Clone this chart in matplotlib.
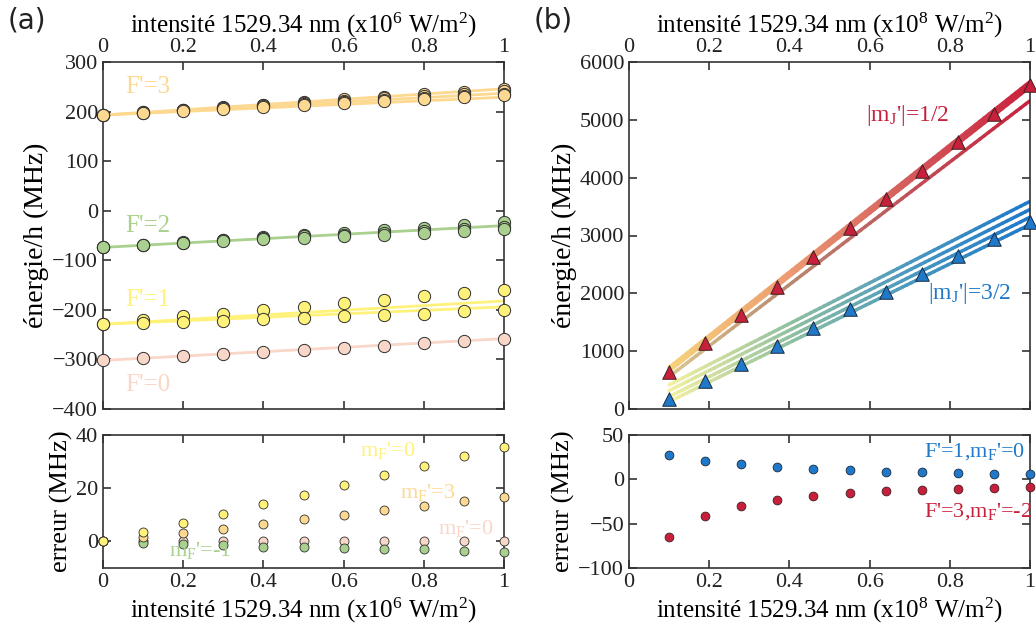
import numpy as np
import matplotlib
matplotlib.use("Agg")
import matplotlib.pyplot as plt
from matplotlib.collections import LineCollection
from matplotlib.colors import LinearSegmentedColormap

plt.rcParams['font.family'] = ['Liberation Serif', 'DejaVu Serif']
plt.rcParams['mathtext.fontset'] = 'custom'
plt.rcParams['mathtext.rm'] = 'Liberation Serif'
plt.rcParams['mathtext.it'] = 'Liberation Serif:italic'
plt.rcParams['mathtext.default'] = 'regular'

# ---------- panel (a) data ----------
x_a = [0, 0.1, 0.2, 0.3, 0.4, 0.5, 0.6, 0.7, 0.8, 0.9, 1.0]

f3_series = [
    [194, 199, 204, 209, 214, 220, 225, 230, 235, 240, 246],
    [194, 198.5, 203, 208, 213, 218, 222, 227, 232, 236, 241],
    [194, 198, 203, 207, 211, 216, 220, 224, 228, 232, 236],
    [194, 198, 202, 206, 210, 214, 218, 222, 226, 229, 233],
]
f2_series = [
    [-74, -69, -64, -59, -54, -49, -44, -39, -34, -29, -23],
    [-74, -69, -65, -60, -56, -52, -48, -44, -40, -36, -32],
    [-74, -70, -66, -62, -58, -55, -51, -48, -45, -41, -37],
]
f1_series = [
    [-229, -221, -213, -208, -201, -194, -187, -181, -173, -166, -159],
    [-229, -227, -225, -222, -219, -216, -213, -210, -208, -203, -200],
]
f0_series = [
    [-302, -297, -294, -290, -285, -280, -276, -272, -267, -263, -258],
]

# fitted lines (value at x=0, value at x=1)
f3_fits = [(193, 246), (193, 237), (193, 229)]
f2_fits = [(-74, -30)]
f1_fits = [(-229, -182), (-229, -194)]
f0_fits = [(-302, -258)]

err_a_y_mf0 = [0, 3.4, 7.0, 10.3, 14.2, 17.6, 21.2, 24.8, 28.5, 32.1, 35.6]
err_a_o_mf3 = [0, 1.7, 3.0, 4.8, 6.4, 8.3, 9.9, 11.8, 13.4, 15.2, 16.8]
err_a_p_mf0 = [0, 0.2, 0.2, 0.2, 0.2, 0.2, 0.2, 0.2, 0.2, 0.2, 0.2]
err_a_g_mfm1 = [0, -0.7, -1.0, -1.2, -2.0, -2.2, -2.4, -2.9, -3.0, -3.5, -3.9]

# ---------- panel (b) data ----------
x_b = [0.1, 0.19, 0.28, 0.37, 0.46, 0.55, 0.64, 0.73, 0.82, 0.91, 1.0]
red_pts = [640, 1142, 1623, 2116, 2620, 3125, 3623, 4110, 4609, 5107, 5605]
blue_pts = [174, 487, 783, 1096, 1403, 1722, 2023, 2330, 2638, 2939, 3240]

red_fits = [(720, 5660), (690, 5615), (655, 5570), (560, 5330)]
blue_fits = [(417, 3590), (318, 3450), (214, 3316), (127, 3190)]

err_b_blue = [27.8, 20.7, 17.0, 13.6, 11.7, 10.2, 8.6, 7.9, 7.1, 6.4, 5.7]
err_b_red = [-64.6, -41.3, -29.7, -23.3, -19.1, -15.8, -13.5, -12.0, -10.9, -9.4, -8.6]

C_F3 = '#fdd890'
C_F2 = '#a9d08e'
C_F1 = '#fff27a'
C_F0 = '#f8d6c8'
C_RED = '#c8203c'
C_BLUE = '#1f78c8'
EDGE = '#303030'

W, H = 1036, 643
fig = plt.figure(figsize=(W / 100, H / 100), dpi=100)


def box(x0, y0, x1, y1):
    return [x0 / W, 1 - y1 / H, (x1 - x0) / W, (y1 - y0) / H]


ax_a = fig.add_axes(box(103, 62, 504, 409))
ax_ae = fig.add_axes(box(103, 435, 504, 568))
ax_b = fig.add_axes(box(629, 62, 1030, 409))
ax_be = fig.add_axes(box(629, 435, 1030, 568))

xlab6 = 'intensité 1529.34 nm (x10$^6$ W/m$^2$)'
xlab8 = 'intensité 1529.34 nm (x10$^8$ W/m$^2$)'
FS = 16
XFS = 18
YFS = 20


def style(ax, top_labels):
    for s in ax.spines.values():
        s.set_color('#333333')
        s.set_linewidth(1.2)
    ax.tick_params(direction='in', top=True, right=True, length=6,
                   width=1.1, labelsize=FS, colors='#222222')
    if top_labels:
        ax.tick_params(labeltop=True, labelbottom=False)
        ax.xaxis.set_label_position('top')
    ax.set_xlim(0, 1)
    ax.set_xticks([0, 0.2, 0.4, 0.6, 0.8, 1.0])
    ax.set_xticklabels(['0', '0.2', '0.4', '0.6', '0.8', '1'])


# ---------- (a) top ----------
style(ax_a, True)
for fits, c in [(f3_fits, C_F3), (f2_fits, C_F2), (f1_fits, C_F1), (f0_fits, C_F0)]:
    for y0, y1 in fits:
        ax_a.plot([0, 1], [y0, y1], color=c, lw=2, zorder=2)
for group, c in [(f3_series, C_F3), (f2_series, C_F2), (f1_series, C_F1), (f0_series, C_F0)]:
    for s in group:
        ax_a.scatter(x_a, s, s=78, color=c, edgecolors=EDGE, linewidths=0.7,
                     zorder=3, clip_on=False)
ax_a.set_ylim(-400, 300)
ax_a.set_yticks(range(-400, 301, 100))
ax_a.set_xlabel(xlab6, fontsize=XFS, labelpad=4)
ax_a.set_ylabel('énergie/h (MHz)', fontsize=YFS, labelpad=2)
ax_a.text(0.055, 250, "F'=3", color=C_F3, fontsize=18, va='center')
ax_a.text(0.055, -30, "F'=2", color=C_F2, fontsize=18, va='center')
ax_a.text(0.055, -181, "F'=1", color=C_F1, fontsize=18, va='center')
ax_a.text(0.055, -352, "F'=0", color=C_F0, fontsize=18, va='center')

# ---------- (a) error ----------
style(ax_ae, False)
for vals, c in [(err_a_p_mf0, C_F0), (err_a_g_mfm1, C_F2), (err_a_o_mf3, C_F3), (err_a_y_mf0, C_F1)]:
    ax_ae.scatter(x_a, vals, s=42, color=c, edgecolors=EDGE, linewidths=0.6,
                  zorder=3, clip_on=False)
ax_ae.set_ylim(-10, 40)
ax_ae.set_yticks([0, 20, 40])
ax_ae.set_xlabel(xlab6, fontsize=XFS, labelpad=3)
ax_ae.set_ylabel('erreur (MHz)', fontsize=YFS - 1, labelpad=2)
ax_ae.text(0.64, 34, "m$_F$'=0", color=C_F1, fontsize=16, va='center')
ax_ae.text(0.74, 18.5, "m$_F$'=3", color=C_F3, fontsize=16, va='center')
ax_ae.text(0.835, 5, "m$_F$'=0", color=C_F0, fontsize=16, va='center')
ax_ae.text(0.165, -3.5, "m$_F$'=-1", color=C_F2, fontsize=16, va='center')

# ---------- (b) top ----------
style(ax_b, True)
cm_red = LinearSegmentedColormap.from_list('r', ['#f6d27a', '#ec9a72', '#d45a5c', '#c8203c'])
cm_red2 = LinearSegmentedColormap.from_list('r2', ['#d8c690', '#b88870', '#c0505a', '#c8203c'])
cm_blue = LinearSegmentedColormap.from_list('b', ['#f2f0a0', '#90c0a0', '#4a98c0', '#1f78c8'])


def grad_line(ax, x0, x1, y0, y1, cmap, lw):
    t = np.linspace(0, 1, 80)
    xs = x0 + (x1 - x0) * t
    ys = y0 + (y1 - y0) * t
    pts = np.column_stack([xs, ys]).reshape(-1, 1, 2)
    segs = np.concatenate([pts[:-1], pts[1:]], axis=1)
    lc = LineCollection(segs, colors=cmap(t[:-1]), linewidths=lw,
                        capstyle='round', zorder=2)
    ax.add_collection(lc)


for i, (y0, y1) in enumerate(red_fits):
    grad_line(ax_b, x_b[0], x_b[-1], y0, y1, cm_red if i < 3 else cm_red2, 2.5)
for y0, y1 in blue_fits:
    grad_line(ax_b, x_b[0], x_b[-1], y0, y1, cm_blue, 2.5)
ax_b.scatter(x_b, red_pts, marker='^', s=95, color=C_RED, edgecolors='#402020',
             linewidths=0.7, zorder=3, clip_on=False)
ax_b.scatter(x_b, blue_pts, marker='^', s=95, color=C_BLUE, edgecolors='#1a2a40',
             linewidths=0.7, zorder=3, clip_on=False)
ax_b.set_ylim(0, 6000)
ax_b.set_yticks(range(0, 6001, 1000))
ax_b.set_xlabel(xlab8, fontsize=XFS, labelpad=4)
ax_b.set_ylabel('énergie/h (MHz)', fontsize=YFS, labelpad=2)
ax_b.text(0.59, 5080, "|m$_J$'|=1/2", color=C_RED, fontsize=17, va='center')
ax_b.text(0.745, 1990, "|m$_J$'|=3/2", color=C_BLUE, fontsize=17, va='center')

# ---------- (b) error ----------
style(ax_be, False)
ax_be.scatter(x_b, err_b_blue, s=40, color=C_BLUE, edgecolors='#1a2a40',
              linewidths=0.6, zorder=3, clip_on=False)
ax_be.scatter(x_b, err_b_red, s=40, color=C_RED, edgecolors='#402020',
              linewidths=0.6, zorder=3, clip_on=False)
ax_be.set_ylim(-100, 50)
ax_be.set_yticks([-100, -50, 0, 50])
ax_be.set_xlabel(xlab8, fontsize=XFS, labelpad=3)
ax_be.set_ylabel('erreur (MHz)', fontsize=YFS - 1, labelpad=2)
ax_be.text(0.735, 31, "F'=1,m$_F$'=0", color=C_BLUE, fontsize=16, va='center')
ax_be.text(0.735, -36, "F'=3,m$_F$'=-2", color=C_RED, fontsize=16, va='center')

fig.text(8 / W, 1 - 20 / H, '(a)', fontsize=20, family='DejaVu Sans',
         va='center', ha='left', color='#222222')
fig.text(534 / W, 1 - 20 / H, '(b)', fontsize=20, family='DejaVu Sans',
         va='center', ha='left', color='#222222')

fig.savefig('out.png', dpi=100)
